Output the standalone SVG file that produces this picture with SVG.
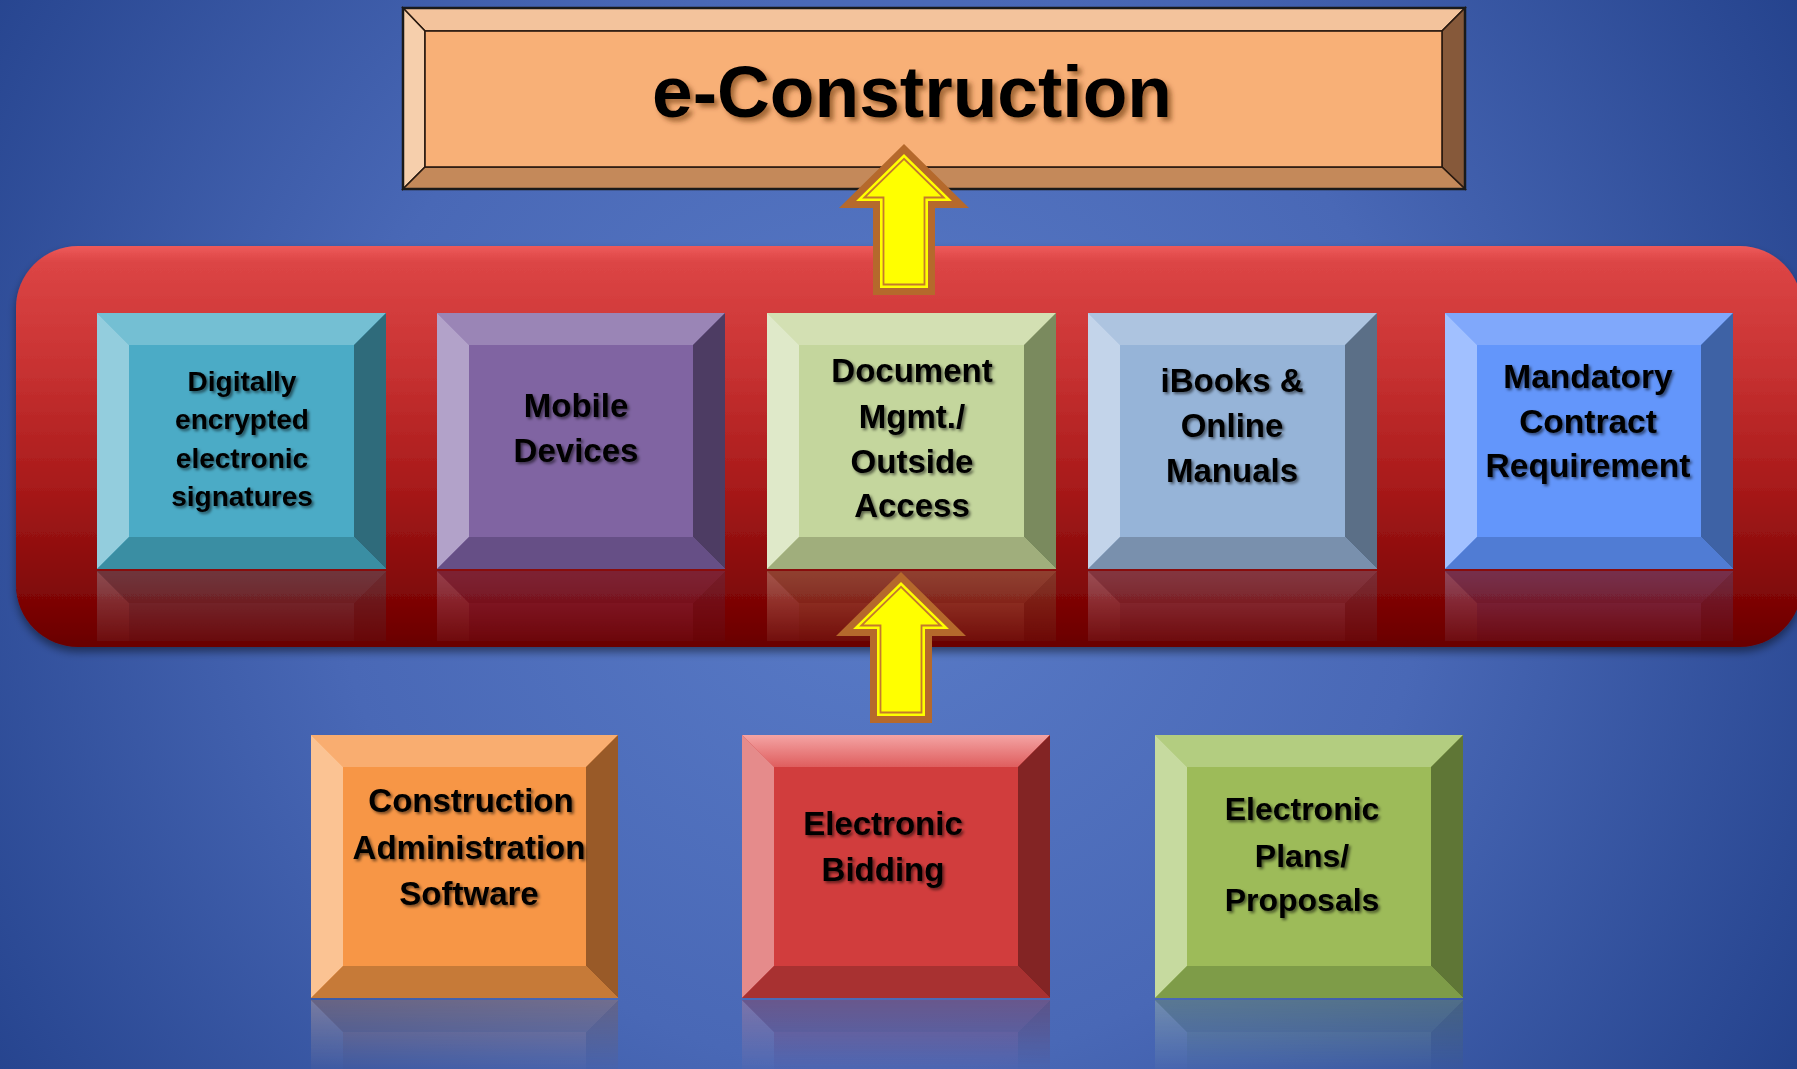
<svg xmlns="http://www.w3.org/2000/svg" xmlns:xlink="http://www.w3.org/1999/xlink" width="1797" height="1069" viewBox="0 0 1797 1069">
<style>
.lbl{font-family:"Liberation Sans",Arial,sans-serif;font-weight:bold;fill:#000;text-anchor:middle;filter:url(#ts)}
.ttl{font-family:"Liberation Sans",Arial,sans-serif;font-weight:bold;fill:#000;text-anchor:middle;filter:url(#tts)}
.tb{stroke:#2a1a10;stroke-width:1.6;stroke-linejoin:miter}
</style>
<defs>
<radialGradient id="bg" cx="880" cy="520" r="1100" gradientUnits="userSpaceOnUse">
<stop offset="0" stop-color="#5a7cc8"/>
<stop offset="0.5" stop-color="#4968b6"/>
<stop offset="1" stop-color="#22408a"/>
</radialGradient>
<linearGradient id="band" x1="0" y1="246" x2="0" y2="647" gradientUnits="userSpaceOnUse">
<stop offset="0" stop-color="#ee5a5a"/>
<stop offset="0.04" stop-color="#dc4545"/>
<stop offset="0.3" stop-color="#c83232"/>
<stop offset="0.6" stop-color="#a81a1a"/>
<stop offset="0.88" stop-color="#7e0606"/>
<stop offset="1" stop-color="#690303"/>
</linearGradient>
<linearGradient id="redTop" x1="0" y1="735" x2="0" y2="767" gradientUnits="userSpaceOnUse">
<stop offset="0" stop-color="#f4a4a4"/>
<stop offset="1" stop-color="#df5e5e"/>
</linearGradient>
<linearGradient id="fadeTop" x1="0" y1="571" x2="0" y2="642" gradientUnits="userSpaceOnUse">
<stop offset="0" stop-color="#fff" stop-opacity="0.32"/>
<stop offset="1" stop-color="#fff" stop-opacity="0.06"/>
</linearGradient>
<linearGradient id="fadeBot" x1="0" y1="1000" x2="0" y2="1069" gradientUnits="userSpaceOnUse">
<stop offset="0" stop-color="#fff" stop-opacity="0.32"/>
<stop offset="1" stop-color="#fff" stop-opacity="0.03"/>
</linearGradient>
<mask id="mTop" maskUnits="userSpaceOnUse" x="0" y="0" width="1797" height="1069">
<rect x="0" y="571" width="1797" height="70" fill="url(#fadeTop)"/>
</mask>
<mask id="mBot" maskUnits="userSpaceOnUse" x="0" y="0" width="1797" height="1069">
<rect x="0" y="1000" width="1797" height="69" fill="url(#fadeBot)"/>
</mask>
<filter id="ts" x="-10%" y="-30%" width="130%" height="170%">
<feGaussianBlur in="SourceAlpha" stdDeviation="1.6"/>
<feOffset dx="2" dy="2" result="b"/>
<feFlood flood-color="#000" flood-opacity="0.55"/>
<feComposite in2="b" operator="in"/>
<feMerge><feMergeNode/><feMergeNode in="SourceGraphic"/></feMerge>
</filter>
<filter id="tts" x="-5%" y="-20%" width="115%" height="150%">
<feGaussianBlur in="SourceAlpha" stdDeviation="2.5"/>
<feOffset dx="4" dy="4" result="b"/>
<feFlood flood-color="#5a2a00" flood-opacity="0.55"/>
<feComposite in2="b" operator="in"/>
<feMerge><feMergeNode/><feMergeNode in="SourceGraphic"/></feMerge>
</filter>
<filter id="sh" x="-5%" y="-5%" width="110%" height="115%">
<feGaussianBlur in="SourceAlpha" stdDeviation="4"/>
<feOffset dx="0" dy="5" result="b"/>
<feFlood flood-color="#000" flood-opacity="0.45"/>
<feComposite in2="b" operator="in"/>
<feMerge><feMergeNode/><feMergeNode in="SourceGraphic"/></feMerge>
</filter>
<g id="arrow">
<polygon points="0,0 -65,64 -31,64 -31,151 31,151 31,64 65,64" fill="#b5692c"/>
<polygon points="0,10 -48,57 -24,57 -24,144 24,144 24,57 48,57" fill="#ffff00"/>
<polygon points="0,14.8 -39.7,53.5 -20.5,53.5 -20.5,140.5 20.5,140.5 20.5,53.5 39.7,53.5" fill="none" stroke="#c47a2c" stroke-width="1.8"/>
</g>
</defs>

<rect x="0" y="0" width="1797" height="1069" fill="url(#bg)"/>

<g id="band">
<rect x="16" y="246" width="1786" height="401" rx="62" ry="62" fill="url(#band)" filter="url(#sh)"/>
</g>

<g id="title">
<rect x="403" y="8" width="1062" height="181" fill="#f7b077"/>
<polygon class="tb" points="403,8 1465,8 1442,31 425,31" fill="#f3c39c"/>
<polygon class="tb" points="403,8 425,31 425,167 403,189" fill="#f6cfac"/>
<polygon class="tb" points="1465,8 1465,189 1442,167 1442,31" fill="#86593a"/>
<polygon class="tb" points="403,189 425,167 1442,167 1465,189" fill="#c4895a"/>
<rect class="tb" x="425" y="31" width="1017" height="136" fill="#f8b077"/>
<rect x="403" y="8" width="1062" height="181" fill="none" stroke="#1a1a1a" stroke-width="2.5"/>
<text class="ttl" x="912" y="117" font-size="73" textLength="520" lengthAdjust="spacingAndGlyphs">e-Construction</text>
</g>

<g id="node-digitally">
<g id="s1">
<rect x="97" y="313" width="289" height="256" fill="#4babc6"/>
<polygon points="97,313 386,313 354,345 129,345" fill="#74bfd3"/>
<polygon points="97,313 129,345 129,537 97,569" fill="#93cddd"/>
<polygon points="386,313 386,569 354,537 354,345" fill="#2f6b7b"/>
<polygon points="97,569 129,537 354,537 386,569" fill="#3a8ea3"/>
</g>
<g mask="url(#mTop)"><use xlink:href="#s1" transform="matrix(1 0 0 -1 0 1140)"/></g>
<text class="lbl" font-size="28" x="242"><tspan x="242" y="391">Digitally</tspan><tspan x="242" y="429">encrypted</tspan><tspan x="242" y="468">electronic</tspan><tspan x="242" y="506">signatures</tspan></text>
</g>

<g id="node-mobile">
<g id="s2">
<rect x="437" y="313" width="288" height="256" fill="#8064a2"/>
<polygon points="437,313 725,313 693,345 469,345" fill="#9a85b6"/>
<polygon points="437,313 469,345 469,537 437,569" fill="#b2a2c9"/>
<polygon points="725,313 725,569 693,537 693,345" fill="#4d3c63"/>
<polygon points="437,569 469,537 693,537 725,569" fill="#664f86"/>
</g>
<g mask="url(#mTop)"><use xlink:href="#s2" transform="matrix(1 0 0 -1 0 1140)"/></g>
<text class="lbl" font-size="33" x="576"><tspan x="576" y="417">Mobile</tspan><tspan x="576" y="462">Devices</tspan></text>
</g>

<g id="node-document">
<g id="s3">
<rect x="767" y="313" width="289" height="256" fill="#c4d69d"/>
<polygon points="767,313 1056,313 1024,345 799,345" fill="#d3e0b3"/>
<polygon points="767,313 799,345 799,537 767,569" fill="#dfe9c9"/>
<polygon points="1056,313 1056,569 1024,537 1024,345" fill="#7a8a5e"/>
<polygon points="767,569 799,537 1024,537 1056,569" fill="#a0ae7c"/>
</g>
<g mask="url(#mTop)"><use xlink:href="#s3" transform="matrix(1 0 0 -1 0 1140)"/></g>
<text class="lbl" font-size="33" x="912"><tspan x="912" y="382">Document</tspan><tspan x="912" y="428">Mgmt./</tspan><tspan x="912" y="473">Outside</tspan><tspan x="912" y="517">Access</tspan></text>
</g>

<g id="node-ibooks">
<g id="s4">
<rect x="1088" y="313" width="289" height="256" fill="#96b4d8"/>
<polygon points="1088,313 1377,313 1345,345 1120,345" fill="#adc4e0"/>
<polygon points="1088,313 1120,345 1120,537 1088,569" fill="#c3d4ea"/>
<polygon points="1377,313 1377,569 1345,537 1345,345" fill="#5b6f87"/>
<polygon points="1088,569 1120,537 1345,537 1377,569" fill="#7990ad"/>
</g>
<g mask="url(#mTop)"><use xlink:href="#s4" transform="matrix(1 0 0 -1 0 1140)"/></g>
<text class="lbl" font-size="33" x="1232"><tspan x="1232" y="392">iBooks &amp;</tspan><tspan x="1232" y="437">Online</tspan><tspan x="1232" y="482">Manuals</tspan></text>
</g>

<g id="node-mandatory">
<g id="s5">
<rect x="1445" y="313" width="288" height="256" fill="#6396fb"/>
<polygon points="1445,313 1733,313 1701,345 1477,345" fill="#80a8fb"/>
<polygon points="1445,313 1477,345 1477,537 1445,569" fill="#a1c0ff"/>
<polygon points="1733,313 1733,569 1701,537 1701,345" fill="#3e62a5"/>
<polygon points="1445,569 1477,537 1701,537 1733,569" fill="#507cd4"/>
</g>
<g mask="url(#mTop)"><use xlink:href="#s5" transform="matrix(1 0 0 -1 0 1140)"/></g>
<text class="lbl" font-size="33.5" x="1588"><tspan x="1588" y="388">Mandatory</tspan><tspan x="1588" y="433">Contract</tspan><tspan x="1588" y="477">Requirement</tspan></text>
</g>

<g id="node-construction">
<g id="s6">
<rect x="311" y="735" width="307" height="263" fill="#f79646"/>
<polygon points="311,735 618,735 586,767 343,767" fill="#f9ad70"/>
<polygon points="311,735 343,767 343,966 311,998" fill="#fbc393"/>
<polygon points="618,735 618,998 586,966 586,767" fill="#995a28"/>
<polygon points="311,998 343,966 586,966 618,998" fill="#c67a38"/>
</g>
<g mask="url(#mBot)"><use xlink:href="#s6" transform="matrix(1 0 0 -1 0 1998)"/></g>
<text class="lbl" font-size="33" x="469"><tspan x="471" y="812">Construction</tspan><tspan x="469" y="859">Administration</tspan><tspan x="469" y="905">Software</tspan></text>
</g>

<g id="node-bidding">
<g id="s7">
<rect x="742" y="735" width="308" height="263" fill="#d13d3d"/>
<polygon points="742,735 1050,735 1018,767 774,767" fill="url(#redTop)"/>
<polygon points="742,735 774,767 774,966 742,998" fill="#e58b8b"/>
<polygon points="1050,735 1050,998 1018,966 1018,767" fill="#832424"/>
<polygon points="742,998 774,966 1018,966 1050,998" fill="#a83131"/>
</g>
<g mask="url(#mBot)"><use xlink:href="#s7" transform="matrix(1 0 0 -1 0 1998)"/></g>
<text class="lbl" font-size="33" x="883"><tspan x="883" y="835">Electronic</tspan><tspan x="883" y="881">Bidding</tspan></text>
</g>

<g id="node-plans">
<g id="s8">
<rect x="1155" y="735" width="308" height="263" fill="#9dbb59"/>
<polygon points="1155,735 1463,735 1431,767 1187,767" fill="#b3cd80"/>
<polygon points="1155,735 1187,767 1187,966 1155,998" fill="#c6da9f"/>
<polygon points="1463,735 1463,998 1431,966 1431,767" fill="#5f7636"/>
<polygon points="1155,998 1187,966 1431,966 1463,998" fill="#7e9c48"/>
</g>
<g mask="url(#mBot)"><use xlink:href="#s8" transform="matrix(1 0 0 -1 0 1998)"/></g>
<text class="lbl" font-size="32" x="1302"><tspan x="1302" y="820">Electronic</tspan><tspan x="1302" y="867">Plans/</tspan><tspan x="1302" y="911">Proposals</tspan></text>
</g>

<g id="connectors">
<use xlink:href="#arrow" transform="translate(904,144)"/>
<use xlink:href="#arrow" transform="translate(901,572)"/>
</g>
</svg>
